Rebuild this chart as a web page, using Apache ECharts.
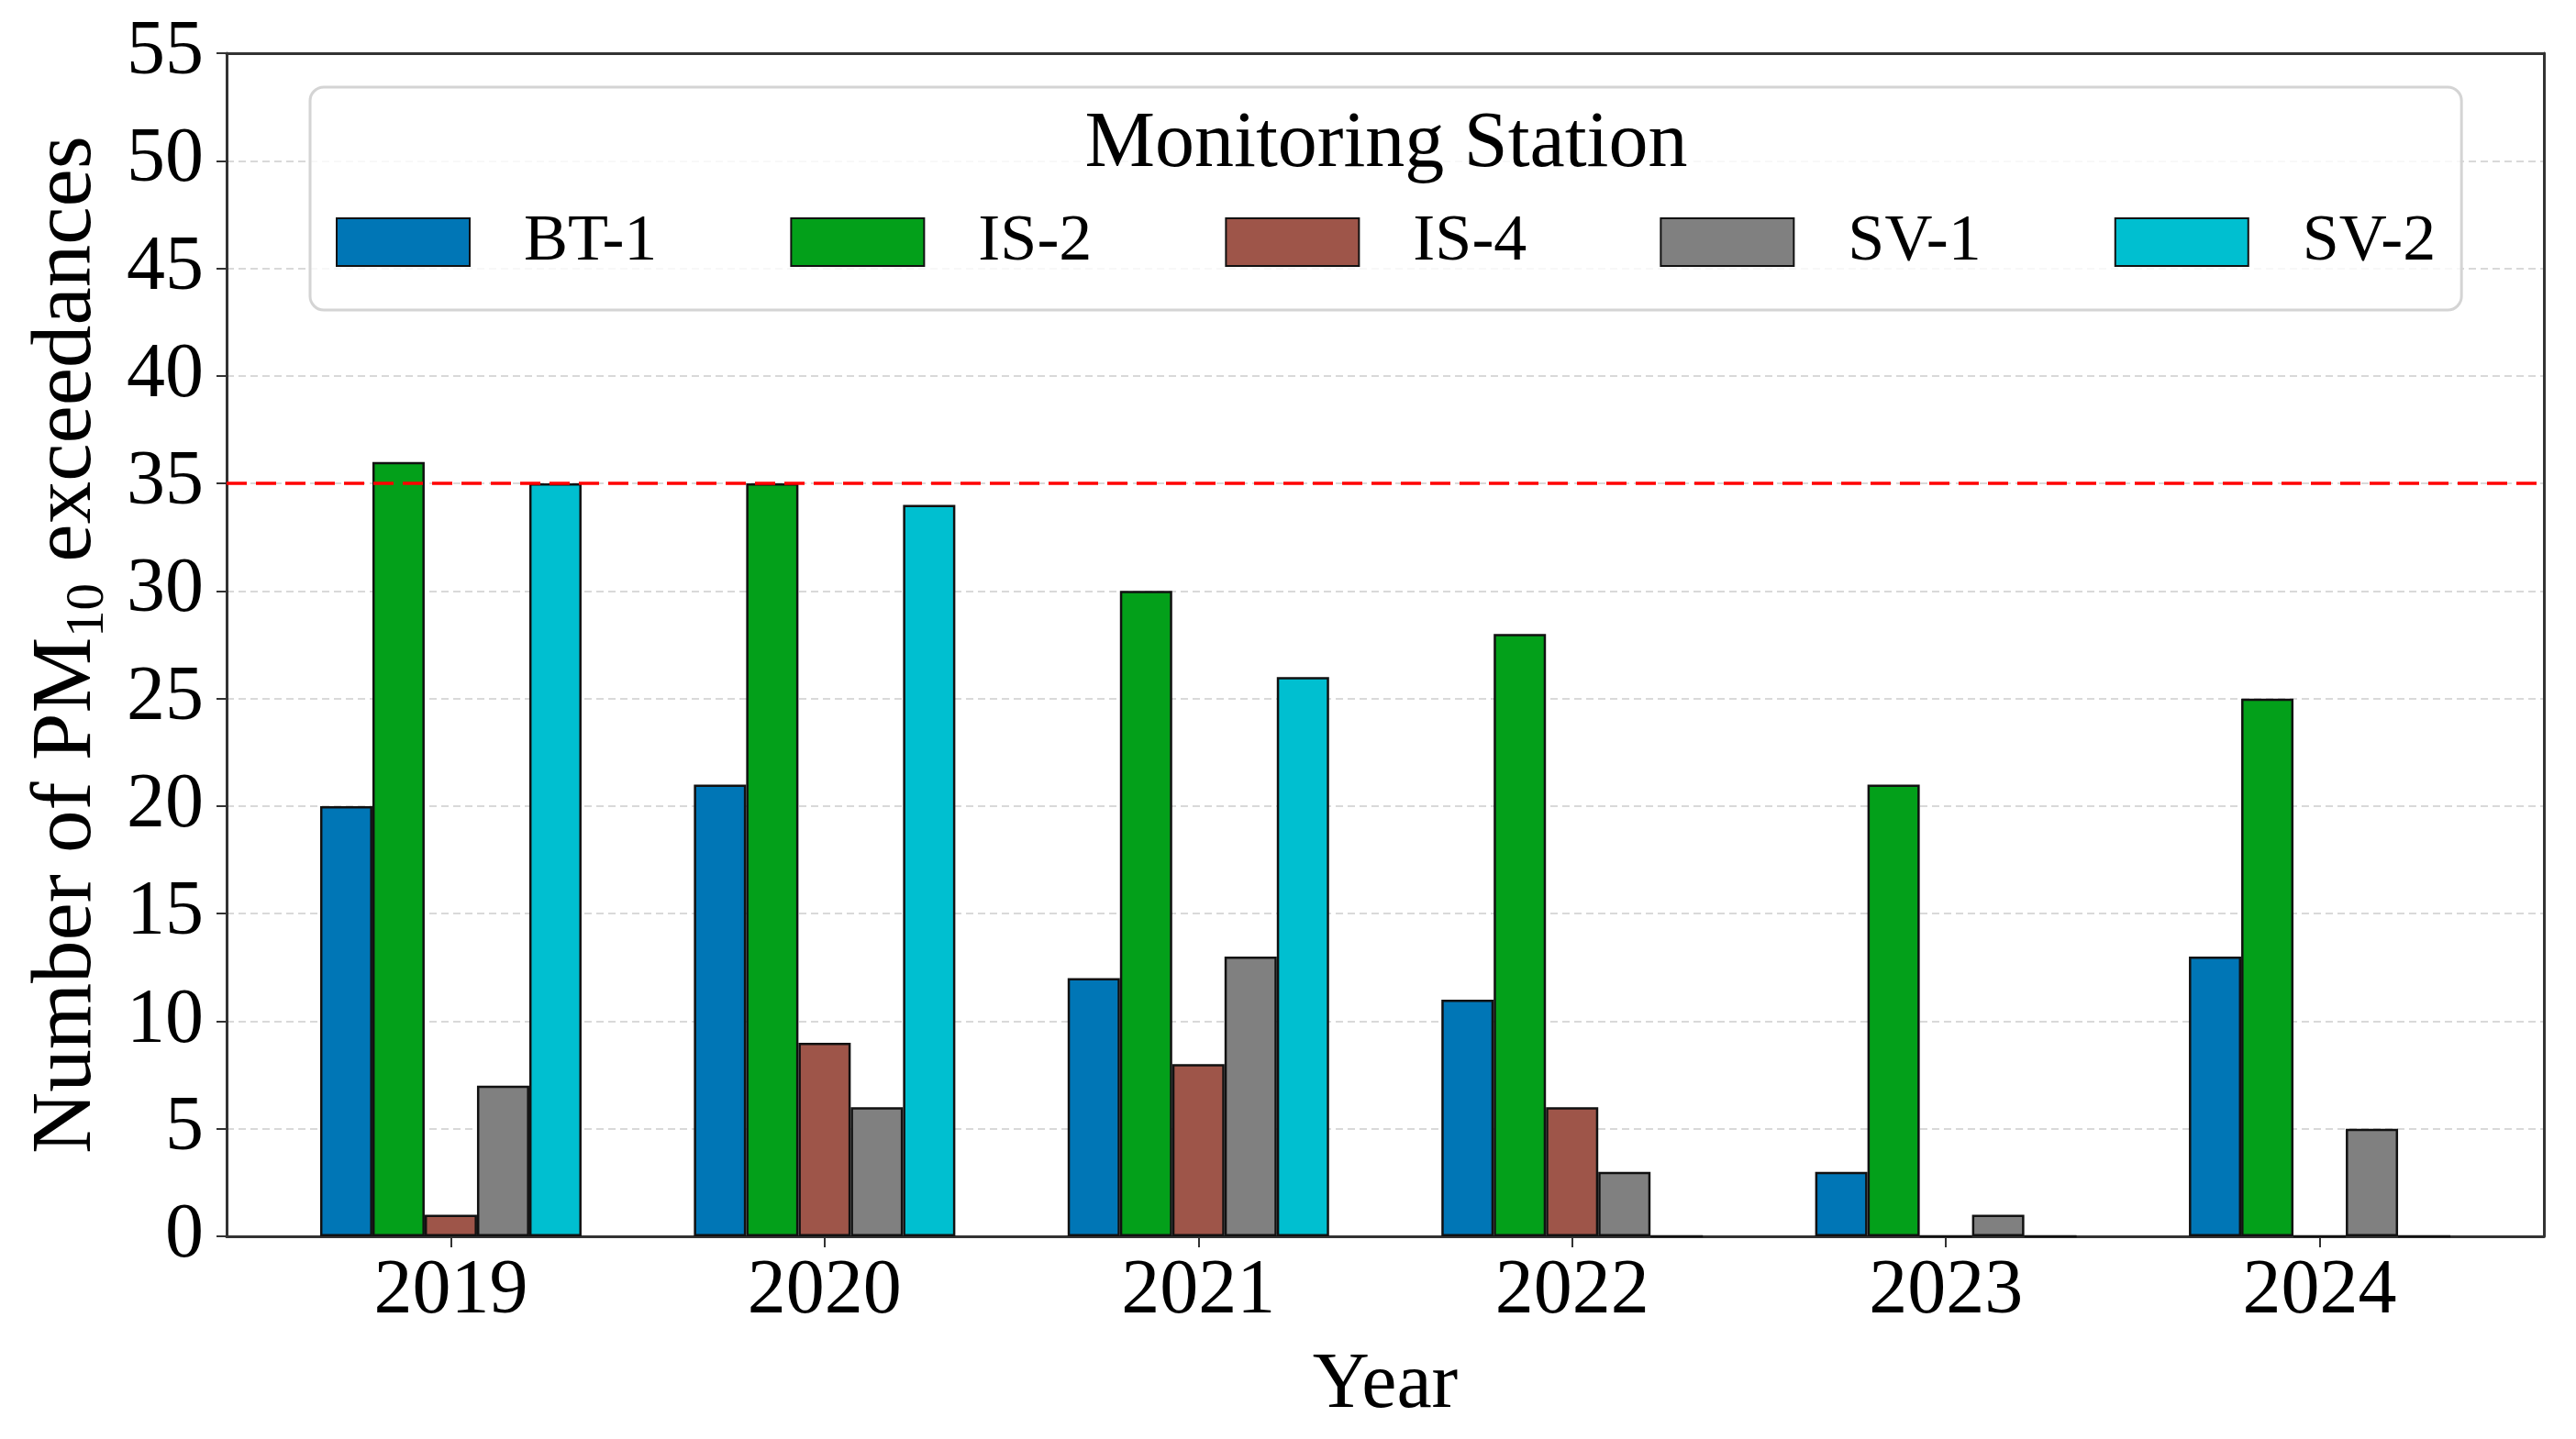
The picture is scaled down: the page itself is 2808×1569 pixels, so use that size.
<!DOCTYPE html>
<html>
<head>
<meta charset="utf-8">
<script src="https://cdn.jsdelivr.net/npm/echarts@6/dist/echarts.min.js"></script>
<style>html,body{margin:0;padding:0;background:#fff}#main{width:2808px;height:1569px}</style>
</head>
<body>
<div id="main"></div>
<script>
const years = ['2019', '2020', '2021', '2022', '2023', '2024'];
const stations = ['BT-1', 'IS-2', 'IS-4', 'SV-1', 'SV-2'];
const bt1 = [20, 21, 12, 11, 3, 13];
const is2 = [36, 35, 30, 28, 21, 25];
const is4 = [1, 9, 8, 6, 0, 0];
const sv1 = [7, 6, 13, 3, 1, 5];
const sv2 = [35, 34, 26, 0, 0, 0];
const limitValue = 35;
const yTicks = [0, 5, 10, 15, 20, 25, 30, 35, 40, 45, 50, 55];
const colors = ['#0076b6', '#03a01a', '#9e5549', '#808080', '#00bfd0'];
const seriesValues = [bt1, is2, is4, sv1, sv2];

const FONT = '"Liberation Serif", "DejaVu Serif", serif';
const chart = echarts.init(document.getElementById('main'), null, {renderer: 'canvas'});

const series = stations.map((name, i) => ({
  name: name,
  type: 'bar',
  barWidth: 57,
  barGap: '0%',
  data: seriesValues[i].map((v, k) => [k, v]),
  itemStyle: {color: colors[i], borderColor: '#111', borderWidth: 2.5},
  emphasis: {disabled: true},
  z: 2
}));
series[0].markLine = {
  silent: true,
  symbol: 'none',
  label: {show: false},
  lineStyle: {color: '#ff0000', width: 3.5, type: [22, 10]},
  data: [{yAxis: limitValue}],
  z: 10
};

const frameAxisLine = {show: true, onZero: false, lineStyle: {color: '#333', width: 3}};

chart.setOption({
  animation: false,
  backgroundColor: '#ffffff',
  grid: {
    left: 247, right: 35, top: 58, bottom: 221,
    containLabel: false, outerBoundsMode: 'none'
  },
  legend: {
    data: stations,
    orient: 'horizontal',
    left: 338, top: 95,
    padding: [133, 28, 38, 28],
    itemWidth: 145, itemHeight: 52, itemGap: 145,
    icon: 'rect',
    backgroundColor: 'rgba(255,255,255,0.8)',
    borderColor: '#d4d4d4', borderWidth: 3, borderRadius: 15,
    textStyle: {fontFamily: FONT, fontSize: 72, color: '#000', lineHeight: 52, padding: [10, 0, 0, 54]},
    selectedMode: false,
    z: 5
  },
  graphic: [{
    type: 'text', z: 100,
    style: {x: 1511, y: 158, text: 'Monitoring Station', textAlign: 'center', textVerticalAlign: 'middle',
      fontFamily: FONT, fontSize: 86, fill: '#000'}
  }],
  xAxis: [{
    type: 'value', min: -0.6, max: 5.6,
    name: 'Year', nameLocation: 'middle', nameGap: 120,
    nameTextStyle: {fontFamily: FONT, fontSize: 86, color: '#000'},
    axisLine: frameAxisLine,
    axisTick: {show: true, customValues: [0, 1, 2, 3, 4, 5], length: 12, lineStyle: {color: '#333', width: 2}},
    axisLabel: {customValues: [0, 1, 2, 3, 4, 5], formatter: v => years[Math.round(v)] || '', margin: 19,
      fontFamily: FONT, fontSize: 84, color: '#000'},
    splitLine: {show: false}
  }, {
    type: 'value', min: -0.6, max: 5.6, position: 'top',
    axisLine: frameAxisLine, axisTick: {show: false}, axisLabel: {show: false}, splitLine: {show: false}
  }],
  yAxis: [{
    type: 'value', min: 0, max: 55, interval: 5,
    name: '{a|Number of PM}{s|10}{a| exceedances}', nameLocation: 'middle', nameGap: 121,
    nameTextStyle: {
      rich: {
        a: {fontFamily: FONT, fontSize: 93, color: '#000', lineHeight: 104},
        s: {fontFamily: FONT, fontSize: 59, color: '#000', lineHeight: 59, verticalAlign: 'bottom'}
      }
    },
    axisLine: frameAxisLine,
    axisTick: {show: true, length: 11, lineStyle: {color: '#333', width: 2}},
    axisLabel: {margin: 25, fontFamily: FONT, fontSize: 84, color: '#000',
      formatter: v => (yTicks.indexOf(v) >= 0 ? String(v) : '')},
    splitLine: {show: true, lineStyle: {color: '#d9d9d9', width: 2, type: [8, 5]}}
  }, {
    type: 'value', min: 0, max: 55, interval: 5, position: 'right',
    axisLine: frameAxisLine, axisTick: {show: false}, axisLabel: {show: false}, splitLine: {show: false}
  }],
  series: series
});
</script>
</body>
</html>
